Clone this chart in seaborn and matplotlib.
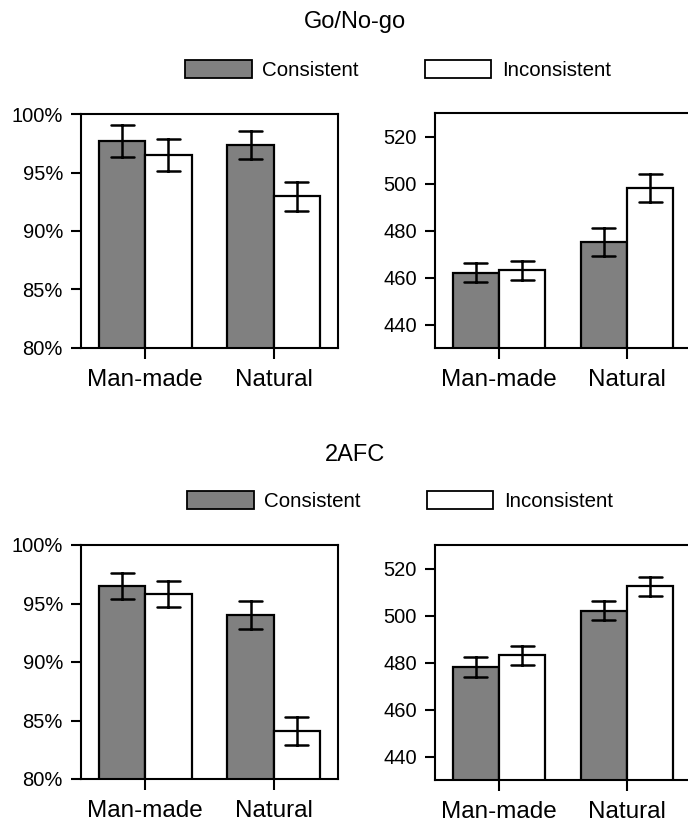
import matplotlib
matplotlib.use("Agg")
import matplotlib.pyplot as plt
import matplotlib.patches as mpatches
import seaborn as sns
import pandas as pd

# ---------------- data ----------------
categories = ["Man-made", "Natural"]
conditions = ["Consistent", "Inconsistent"]

gonogo_acc_mean = {"Consistent": [97.7, 97.35], "Inconsistent": [96.5, 92.95]}
gonogo_acc_err = {"Consistent": [1.4, 1.2], "Inconsistent": [1.4, 1.2]}
gonogo_rt_mean = {"Consistent": [462.0, 475.0], "Inconsistent": [463.0, 498.0]}
gonogo_rt_err = {"Consistent": [4.0, 6.0], "Inconsistent": [4.0, 6.0]}

afc_acc_mean = {"Consistent": [96.5, 94.05], "Inconsistent": [95.8, 84.1]}
afc_acc_err = {"Consistent": [1.1, 1.2], "Inconsistent": [1.1, 1.2]}
afc_rt_mean = {"Consistent": [478.0, 502.0], "Inconsistent": [483.0, 512.5]}
afc_rt_err = {"Consistent": [4.2, 4.0], "Inconsistent": [4.2, 4.0]}

pct_ticks = [80, 85, 90, 95, 100]
pct_labels = ["80%", "85%", "90%", "95%", "100%"]
rt_ticks = [440, 460, 480, 500, 520]
rt_labels = ["440", "460", "480", "500", "520"]

titles = ["Go/No-go", "2AFC"]

# ---------------- style ----------------
sns.set_style("ticks", {"axes.edgecolor": "black", "text.color": "black",
                        "xtick.color": "black", "ytick.color": "black"})
plt.rcParams["font.family"] = ["Liberation Sans", "DejaVu Sans"]
plt.rcParams["axes.linewidth"] = 1.5
plt.rcParams["text.color"] = "black"
plt.rcParams["axes.labelcolor"] = "black"
plt.rcParams["xtick.labelcolor"] = "black"
plt.rcParams["ytick.labelcolor"] = "black"

colors = {"Consistent": "#808080", "Inconsistent": "#ffffff"}


def long_frame(means, errs):
    rows = []
    for cond in conditions:
        for cat, m, e in zip(categories, means[cond], errs[cond]):
            rows.append({"category": cat, "condition": cond, "value": m - e})
            rows.append({"category": cat, "condition": cond, "value": m + e})
    return pd.DataFrame(rows)


def draw(ax, means, errs, ylim, ticks, labels):
    df = long_frame(means, errs)
    sns.barplot(
        data=df, x="category", y="value", hue="condition",
        order=categories, hue_order=conditions, palette=colors,
        estimator="mean", errorbar=lambda v: (v.min(), v.max()),
        width=0.72, gap=0, capsize=0.36,
        edgecolor="black", linewidth=1.6,
        err_kws={"color": "black", "linewidth": 1.8},
        legend=False, ax=ax,
    )
    ax.set_xlim(-0.5, 1.5)
    ax.set_ylim(*ylim)
    ax.set_yticks(ticks)
    ax.set_yticklabels(labels)
    ax.set_xlabel("")
    ax.set_ylabel("")
    ax.tick_params(axis="y", direction="out", length=7, width=1.5,
                   labelsize=14.5, pad=6, colors="black")
    ax.tick_params(axis="x", direction="out", length=8, width=1.5,
                   labelsize=17.5, pad=7, colors="black")
    for s in ax.spines.values():
        s.set_linewidth(1.5)
        s.set_color("black")
        s.set_visible(True)


fig = plt.figure(figsize=(6.88, 8.24), dpi=100)

W = 688.0
H = 824.0


def axes_px(x0, x1, y0, y1):
    return fig.add_axes([x0 / W, 1 - y1 / H, (x1 - x0) / W, (y1 - y0) / H])


ax_tl = axes_px(81, 338, 114, 348)
ax_tr = axes_px(435, 691, 113, 348)
ax_bl = axes_px(81, 338, 545, 779)
ax_br = axes_px(435, 691, 545, 780)

draw(ax_tl, gonogo_acc_mean, gonogo_acc_err, (80, 100), pct_ticks, pct_labels)
draw(ax_tr, gonogo_rt_mean, gonogo_rt_err, (430, 530), rt_ticks, rt_labels)
draw(ax_bl, afc_acc_mean, afc_acc_err, (80, 100), pct_ticks, pct_labels)
draw(ax_br, afc_rt_mean, afc_rt_err, (430, 530), rt_ticks, rt_labels)

# titles
fig.text(355 / W, 1 - 22 / H, titles[0], ha="center", va="center",
         fontsize=17, color="black")
fig.text(355 / W, 1 - 455 / H, titles[1], ha="center", va="center",
         fontsize=17, color="black")

# legends
handles = [mpatches.Patch(facecolor=colors[c], edgecolor="black", linewidth=1.3)
           for c in conditions]
for ycen, xcen in [(70, 398), (501, 400)]:
    leg = fig.legend(handles, conditions, ncol=2, loc="center",
                     bbox_to_anchor=(xcen / W, 1 - ycen / H), frameon=False,
                     fontsize=14.8, handlelength=3.25, handleheight=1.0,
                     handletextpad=0.5, columnspacing=3.2, borderpad=0,
                     borderaxespad=0, labelcolor="black")

fig.savefig("out.png", dpi=100)
